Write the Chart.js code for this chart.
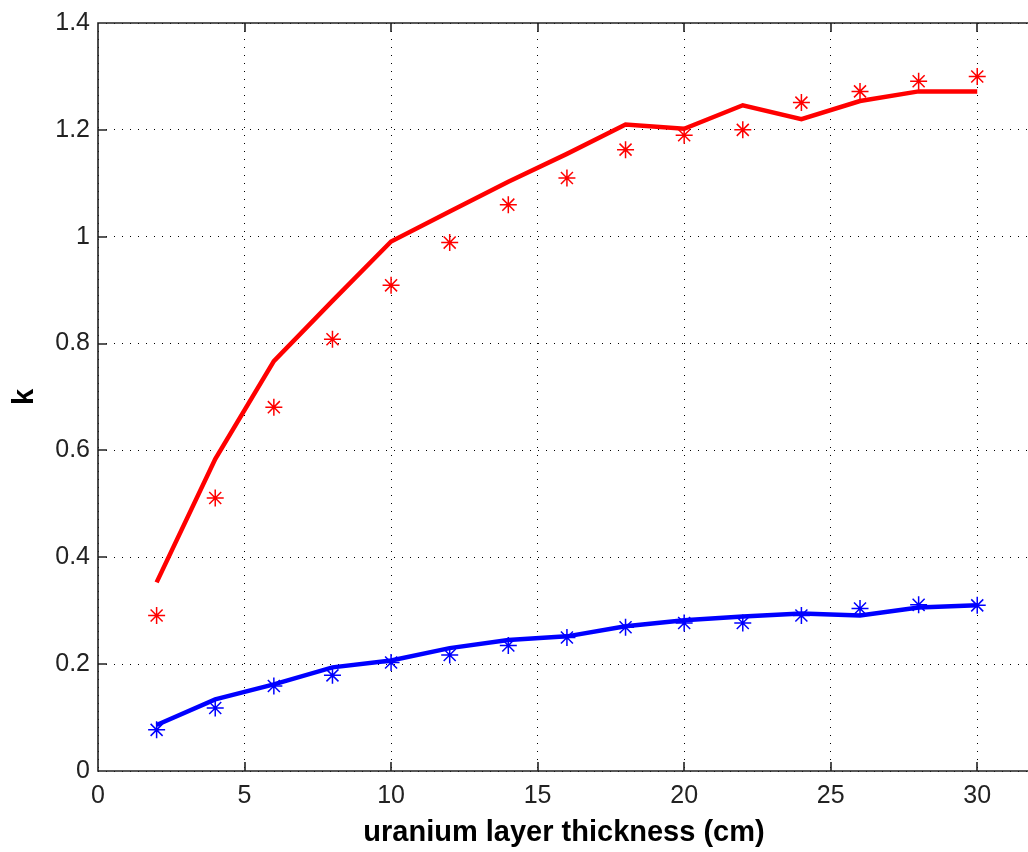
<!DOCTYPE html>
<html>
<head>
<meta charset="utf-8">
<title>k vs uranium layer thickness</title>
<script src="https://cdn.jsdelivr.net/npm/chart.js@4/dist/chart.umd.min.js"></script>
<style>
    html, body { margin: 0; padding: 0; background: #fff; overflow: hidden; }
    #wrap { width: 1040px; height: 852px; }
</style>
</head>
<body>
<div id="wrap"><canvas id="chart" width="1040" height="852"></canvas></div>
<script>
// layer thickness (cm)
const thickness = [2, 4, 6, 8, 10, 12, 14, 16, 18, 20, 22, 24, 26, 28, 30];

// red: calculated line and measured stars
const redLine  = [0.353, 0.584, 0.767, 0.880, 0.991, 1.047, 1.103, 1.155, 1.210, 1.202, 1.246, 1.220, 1.254, 1.272, 1.272];
const redStars = [0.291, 0.511, 0.681, 0.808, 0.909, 0.989, 1.060, 1.110, 1.163, 1.190, 1.200, 1.251, 1.272, 1.291, 1.300];

// blue: calculated line and measured stars
const blueLine  = [0.086, 0.134, 0.162, 0.194, 0.207, 0.230, 0.245, 0.252, 0.271, 0.282, 0.289, 0.295, 0.291, 0.306, 0.310];
const blueStars = [0.077, 0.118, 0.159, 0.179, 0.203, 0.217, 0.235, 0.250, 0.269, 0.277, 0.277, 0.291, 0.304, 0.311, 0.310];

const xTicks = [0, 5, 10, 15, 20, 25, 30];
const yTicks = [0, 0.2, 0.4, 0.6, 0.8, 1, 1.2, 1.4];
const yTickLabels = ['0', '0.2', '0.4', '0.6', '0.8', '1', '1.2', '1.4'];

function points(xs, ys) {
    return xs.map((x, i) => ({ x: x, y: ys[i] }));
}

// matlab style box with ticks pointing inwards
const boxPlugin = {
    id: 'box',
    afterDraw(chart) {
        const ctx = chart.ctx;
        const area = chart.chartArea;
        const xs = chart.scales.x;
        const ys = chart.scales.y;
        const len = 9;

        ctx.save();
        ctx.strokeStyle = '#222';
        ctx.lineWidth = 1.6;
        ctx.beginPath();
        ctx.moveTo(area.right, area.top);
        ctx.lineTo(area.left, area.top);
        ctx.lineTo(area.left, area.bottom);
        ctx.lineTo(area.right, area.bottom);

        xTicks.forEach(v => {
            let px = Math.round(xs.getPixelForValue(v));
            ctx.moveTo(px, area.bottom);
            ctx.lineTo(px, area.bottom - len);
            ctx.moveTo(px, area.top);
            ctx.lineTo(px, area.top + len);
        });
        yTicks.forEach(v => {
            let py = Math.round(ys.getPixelForValue(v));
            ctx.moveTo(area.left, py);
            ctx.lineTo(area.left + len, py);
        });
        ctx.stroke();
        ctx.restore();
    }
};

const tickFont = { family: "'Liberation Sans', Arial, sans-serif", size: 25 };
const titleFont = { family: "'Liberation Sans', Arial, sans-serif", size: 29, weight: 'bold' };

const starStyle = {
    showLine: false,
    pointStyle: 'star',
    pointRadius: 8.5,
    pointHoverRadius: 8.5,
    pointBorderWidth: 1.5
};

const lineStyle = {
    showLine: true,
    pointRadius: 0,
    borderWidth: 4.5,
    tension: 0
};

new Chart(document.getElementById('chart').getContext('2d'), {
    type: 'scatter',
    data: {
        datasets: [
            Object.assign({ label: 'red measured', data: points(thickness, redStars), borderColor: '#ff0000', backgroundColor: '#ff0000' }, starStyle),
            Object.assign({ label: 'blue measured', data: points(thickness, blueStars), borderColor: '#0000ff', backgroundColor: '#0000ff' }, starStyle),
            Object.assign({ label: 'red calculated', data: points(thickness, redLine), borderColor: '#ff0000', backgroundColor: '#ff0000' }, lineStyle),
            Object.assign({ label: 'blue calculated', data: points(thickness, blueLine), borderColor: '#0000ff', backgroundColor: '#0000ff' }, lineStyle)
        ]
    },
    options: {
        responsive: false,
        animation: false,
        devicePixelRatio: 1,
        layout: { padding: { top: 21, right: 5, left: 0, bottom: 0 } },
        plugins: {
            legend: { display: false },
            tooltip: { enabled: false }
        },
        scales: {
            x: {
                type: 'linear',
                min: 0,
                max: 31.8,
                afterBuildTicks: (scale) => { scale.ticks = xTicks.map(v => ({ value: v })); },
                afterFit: (scale) => { scale.height = 81; },
                grid: { color: '#000', lineWidth: 1, drawTicks: false },
                border: { display: false, dash: [1, 7] },
                ticks: { font: tickFont, color: '#222', padding: 10, maxRotation: 0 },
                title: { display: true, text: 'uranium layer thickness (cm)', font: titleFont, color: '#000', padding: { top: 0, bottom: 2 } }
            },
            y: {
                type: 'linear',
                min: 0,
                max: 1.4,
                afterBuildTicks: (scale) => { scale.ticks = yTicks.map(v => ({ value: v })); },
                afterFit: (scale) => { scale.width = 98; },
                grid: { color: '#000', lineWidth: 1, drawTicks: false },
                border: { display: false, dash: [1, 7] },
                ticks: {
                    font: tickFont,
                    color: '#222',
                    padding: 8,
                    callback: (value) => yTickLabels[yTicks.indexOf(value)]
                },
                title: { display: true, text: 'k', font: titleFont, color: '#000', padding: { top: 8, bottom: 0 } }
            }
        }
    },
    plugins: [boxPlugin]
});
</script>
</body>
</html>
